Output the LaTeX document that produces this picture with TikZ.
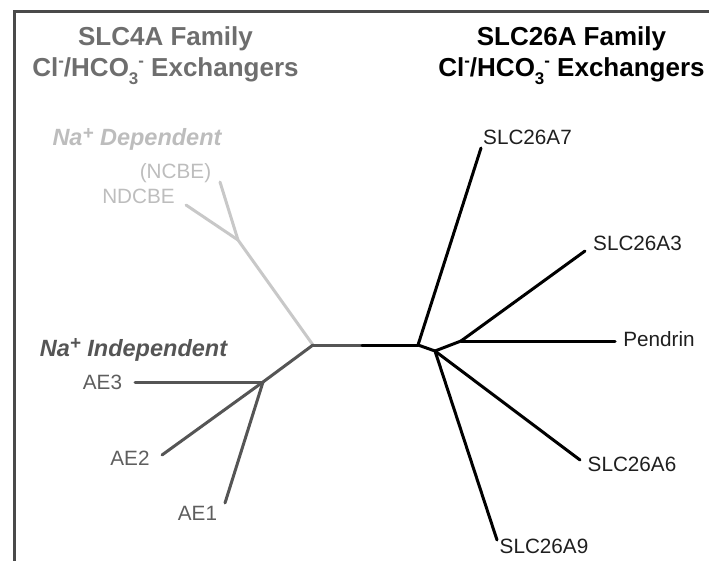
\documentclass[tikz,border=0pt]{standalone}
\usepackage{fontspec}
\setmainfont{Liberation Sans}
\definecolor{ttlgray}{HTML}{6E6E6E}
\definecolor{lightln}{HTML}{C8C8C8}
\definecolor{lighttx}{HTML}{BDBDBD}
\definecolor{darkln}{HTML}{555555}
\definecolor{darktx}{HTML}{5E5E5E}
\definecolor{framec}{HTML}{4A4A4A}
\newcommand{\supm}{\raisebox{0.42em}{\fontsize{0.65em}{0.65em}\selectfont -}}
\newcommand{\subt}[1]{\raisebox{-0.28em}{\fontsize{0.65em}{0.65em}\selectfont #1}}
\newcommand{\supp}{\raisebox{0.28em}{\fontsize{0.8em}{0.8em}\selectfont +}}
\tikzset{
  ttl/.style={inner sep=0pt, anchor=base, font=\fontsize{26}{26}\selectfont\bfseries},
  grp/.style={inner sep=0pt, anchor=base, font=\fontsize{23.5}{23.5}\selectfont\bfseries\itshape},
  lbl/.style={inner sep=0pt, anchor=base, font=\fontsize{20.7}{20.7}\selectfont},
  br/.style={line width=3pt, line cap=round, line join=round},
}
\begin{document}
\begin{tikzpicture}[x=1pt,y=-1pt]
\useasboundingbox (0,0) rectangle (709,561);
% frame
\draw[framec, line width=2.6pt] (14.5,565) -- (14.5,11.5) -- (715,11.5);

% titles
\node[ttl, text=ttlgray] (t1a) at (165.5,46) {SLC4A Family};
\node[ttl, text=ttlgray] (t1b) at (165.5,77) {Cl\supm/HCO\subt{3}\supm\ Exchangers};
\node[ttl, text=black] (t2a) at (571.5,46) {SLC26A Family};
\node[ttl, text=black] (t2b) at (571.5,77) {Cl\supm/HCO\subt{3}\supm\ Exchangers};

% group labels
\node[grp, text=lighttx] (gdep) at (137,146) {Na\supp\ Dependent};
\node[grp, text=darkln] (gind) at (133.5,356) {Na\supp\ Independent};

% coordinates of the tree
\coordinate (ncbet) at (220,182);
\coordinate (ndcbet) at (186,205);
\coordinate (j1) at (238,240);
\coordinate (root) at (313,345);
\coordinate (mid) at (362,345);
\coordinate (j2) at (263,382);
\coordinate (ae3t) at (135,382);
\coordinate (ae2t) at (162,455);
\coordinate (ae1t) at (225,503);
\coordinate (j3) at (418,345);
\coordinate (a7t) at (481,148);
\coordinate (j4) at (435,351);
\coordinate (j5) at (461,341);
\coordinate (pent) at (615,341);
\coordinate (a3t) at (585,251);
\coordinate (a6t) at (580,460);
\coordinate (a9t) at (497,540);

% branches
\draw[br, lightln] (ncbet) -- (j1) -- (root);
\draw[br, lightln] (ndcbet) -- (j1);
\draw[br, darkln] (root) -- (mid);
\draw[br, darkln] (root) -- (j2);
\draw[br, darkln] (ae3t) -- (j2);
\draw[br, darkln] (j2) -- (ae2t);
\draw[br, darkln] (j2) -- (ae1t);
\draw[br, black] (mid) -- (j3);
\draw[br, black] (j3) -- (a7t);
\draw[br, black] (j3) -- (j4);
\draw[br, black] (j4) -- (j5);
\draw[br, black] (j5) -- (pent);
\draw[br, black] (j5) -- (a3t);
\draw[br, black] (j4) -- (a6t);
\draw[br, black] (j4) -- (a9t);

% leaf labels
\node[lbl, text=lighttx] (ncbe) at (175.5,178.5) {(NCBE)};
\node[lbl, text=lighttx] (ndcbe) at (138.5,203.5) {NDCBE};
\node[lbl, text=darktx] (ae3) at (102.5,389.5) {AE3};
\node[lbl, text=darktx] (ae2) at (130,465.5) {AE2};
\node[lbl, text=darktx] (ae1) at (197.5,520.5) {AE1};
\node[lbl, text=black!88] (a7) at (527.5,144.5) {SLC26A7};
\node[lbl, text=black!88] (a3) at (637.5,250.5) {SLC26A3};
\node[lbl, text=black!88] (pen) at (659,346.5) {Pendrin};
\node[lbl, text=black!88] (a6) at (632,471.5) {SLC26A6};
\node[lbl, text=black!88] (a9) at (544,553.5) {SLC26A9};
\end{tikzpicture}
\end{document}
